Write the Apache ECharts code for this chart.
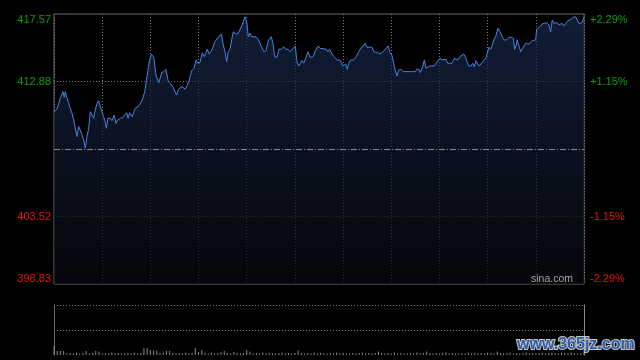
<!DOCTYPE html>
<html>
<head>
<meta charset="utf-8">
<script src="https://cdn.jsdelivr.net/npm/echarts@6/dist/echarts.min.js"></script>
<style>
html,body{margin:0;padding:0;background:#000;}
#chart{width:640px;height:360px;}
</style>
</head>
<body>
<div id="chart"></div>
<script>
// minutes since the open (HK session, 330 minutes)
const times = [0,1.9,2.9,3.9,5.0,5.6,6.4,7.0,8.1,9.2,10.1,11.2,12.3,13.3,14.3,15.4,16.4,17.4,18.5,19.5,
20.5,21.6,22.6,23.7,24.7,25.7,26.8,27.8,28.8,29.9,30.9,31.9,32.6,33.6,35.1,36.1,37.5,38.6,39.6,41.3,
42.8,44.0,45.3,46.1,47.1,48.6,49.6,50.6,52.3,53.4,54.8,56.5,57.9,59.3,60.6,62.1,63.5,65.2,66.0,67.1,
68.5,69.7,70.5,71.2,72.7,74.3,75.3,76.4,77.4,78.9,80.5,81.6,83.0,84.2,85.7,87.2,88.4,89.5,90.9,92.3,
93.6,94.6,95.4,96.7,97.6,98.8,100.2,101.7,102.9,104.2,105.4,106.5,107.5,108.5,109.6,110.6,111.6,113.3,114.7,115.8,
116.9,117.9,118.9,120.0,121.0,122.0,123.1,124.1,125.8,127.2,128.3,129.3,130.7,132.0,133.4,134.4,135.3,136.4,137.4,138.8,
140.1,141.5,143.0,144.3,145.7,147.1,148.8,150.2,151.3,152.3,153.3,154.4,155.5,156.5,158.1,159.6,161.3,162.7,164.4,165.8,
167.5,169.5,170.6,171.7,173.1,174.3,175.4,176.4,177.9,178.9,179.9,181.0,181.6,182.6,183.5,184.7,186.6,188.2,189.7,191.3,
192.6,193.8,194.9,196.6,198.0,199.1,200.3,201.7,203.0,204.2,205.5,206.7,208.1,209.2,210.4,211.5,212.5,213.6,214.6,216.0,
217.5,219.2,221.2,223.3,224.9,225.8,227.1,228.1,229.6,230.6,231.6,232.7,233.7,235.3,236.8,237.8,238.9,240.3,241.6,242.6,
244.1,245.1,246.5,247.8,249.2,250.3,251.3,252.8,254.0,255.1,256.1,257.2,258.2,259.7,260.7,261.7,262.7,263.8,264.8,265.8,
266.9,268.5,269.8,270.8,271.9,272.9,273.9,275.0,275.6,276.4,277.7,279.1,280.2,280.8,281.8,283.3,284.7,286.0,286.8,287.8,
288.4,289.5,290.6,291.6,292.6,293.7,294.7,295.7,296.8,297.8,298.8,299.9,300.5,302.0,303.0,304.0,305.1,306.7,308.2,309.2,
310.2,311.3,312.3,313.3,314.4,315.4,316.4,317.5,318.5,319.9,321.2,322.3,323.3,324.8,325.8,326.9,327.9,328.9,330];

const prices = [410.79,410.98,411.00,411.72,411.79,412.18,411.79,412.18,411.72,411.37,411.03,410.68,410.21,410.09,409.05,409.75,409.52,409.17,408.82,408.25,
409.05,409.64,410.79,410.56,410.33,410.91,411.37,411.55,411.14,411.09,410.44,410.09,409.64,410.33,410.33,410.16,410.56,409.98,410.21,410.33,
410.40,410.33,410.72,410.33,410.72,410.44,410.33,411.03,411.14,411.32,411.55,412.18,413.22,414.26,414.79,414.56,413.34,412.80,412.76,413.50,
413.57,413.73,413.68,412.87,412.71,412.48,412.18,411.95,412.30,412.52,412.48,412.34,412.64,412.99,413.63,413.80,414.38,414.15,414.19,414.88,
414.61,414.72,415.12,414.79,414.95,415.19,415.65,415.88,415.99,416.18,415.42,414.95,414.26,414.95,415.12,415.77,416.34,416.18,416.23,416.18,
416.74,416.81,417.38,417.04,415.99,416.23,415.99,415.88,415.99,415.81,415.77,415.26,414.95,415.02,415.72,415.81,415.99,415.49,414.61,414.56,
415.12,415.12,415.30,415.12,415.12,414.95,415.19,415.35,414.26,413.96,414.03,414.33,414.15,414.43,414.95,414.56,414.61,415.02,415.35,415.19,
415.16,415.12,414.95,415.12,414.79,414.61,414.72,414.38,414.38,414.19,413.96,413.91,414.10,413.73,414.15,414.38,414.38,414.61,414.95,415.26,
415.35,415.54,415.26,415.26,415.26,414.95,415.07,414.88,414.79,414.88,415.02,415.02,415.35,414.88,414.72,414.15,413.63,413.27,413.68,413.73,
413.57,413.57,413.57,413.57,413.57,413.73,413.73,413.50,413.91,414.38,413.80,413.73,413.96,413.96,413.96,414.15,414.26,414.50,414.38,414.38,
414.43,414.15,414.15,414.15,414.50,414.56,414.38,414.61,414.65,414.79,414.61,414.26,413.96,413.96,414.15,413.91,414.33,414.33,413.96,413.91,
414.26,414.43,414.84,415.26,415.12,415.42,415.77,415.99,416.04,416.58,416.34,415.99,415.77,415.88,415.77,415.95,415.95,415.88,415.12,415.42,
415.77,415.35,414.95,414.95,415.35,415.54,415.42,415.49,415.58,415.72,415.65,415.77,416.51,416.65,416.69,416.88,416.97,416.97,416.81,416.34,
417.15,416.92,416.81,416.97,416.81,416.74,416.92,416.74,416.92,417.10,417.15,417.15,417.34,417.38,417.34,416.92,416.92,416.97,417.38];

// volume, one bar per two minutes (relative units)
const volumes = [18,8,8,8,3,4,3,5,3,4,8,3,4,8,7,3,4,3,5,3,4,3,3,4,3,5,3,4,14,14,10,9,9,4,5,8,8,4,3,4,
3,5,3,4,14,6,10,4,3,5,3,4,6,8,4,3,6,4,3,4,10,7,3,4,3,5,3,4,3,3,4,5,3,4,3,4,9,4,3,4,
3,5,3,4,3,3,4,3,5,3,4,3,3,4,3,4,5,3,4,3,4,7,4,3,4,3,5,3,4,3,3,4,3,5,3,4,7,4,3,4,
3,4,5,3,4,3,3,4,3,5,3,4,3,4,3,5,4,3,7,4,3,4,5,3,4,3,4,5,3,4,3,4,5,3,4,5,4,3,5,4,3,5,4,3,4,5];
const volCategories = volumes.map((v, i) => String(i * 2));

const prevClose = 408.20;
const priceMin = 398.83, priceMax = 417.57, priceStep = 4.685;
const leftLabels = ['398.83', '403.52', '', '412.88', '417.57'];
const rightLabels = ['-2.29%', '-1.15%', '', '+1.15%', '+2.29%'];

const UP = '#0aa00a', DOWN = '#e8120c';
const FONT = 'Liberation Sans, Arial, sans-serif';
const dotted = { color: '#7a7a7a', type: [1, 2], width: 1 };

const chart = echarts.init(document.getElementById('chart'), null, { renderer: 'canvas' });
chart.setOption({
  backgroundColor: '#000',
  animation: false,
  grid: [
    { left: 54, right: 56, top: 14, bottom: 76, show: true, borderColor: '#6a6a6a', borderWidth: 1, backgroundColor: 'transparent' },
    { left: 54, right: 56, top: 305, bottom: 5 }
  ],
  xAxis: [
    { type: 'value', gridIndex: 0, min: 0, max: 330, interval: 30,
      axisLine: { show: false }, axisTick: { show: false }, axisLabel: { show: false },
      splitLine: { show: true, lineStyle: dotted } },
    { type: 'category', gridIndex: 1, data: volCategories, boundaryGap: false,
      axisLine: { show: false }, axisTick: { show: false }, axisLabel: { show: false }, splitLine: { show: false } }
  ],
  yAxis: [
    { type: 'value', gridIndex: 0, min: priceMin, max: priceMax, interval: priceStep, position: 'left',
      axisLine: { show: false }, axisTick: { show: false },
      axisLabel: { margin: 3, fontSize: 11, fontFamily: FONT,
        verticalAlignMinLabel: 'bottom', verticalAlignMaxLabel: 'top',
        formatter: (v, i) => leftLabels[i] || '',
        color: (v, i) => (i < 2 ? DOWN : UP) },
      splitLine: { show: true, lineStyle: { color: ['rgba(0,0,0,0)', '#7a7a7a', 'rgba(0,0,0,0)', '#7a7a7a', 'rgba(0,0,0,0)'], type: [1, 2], width: 1 } } },
    { type: 'value', gridIndex: 0, min: priceMin, max: priceMax, interval: priceStep, position: 'right',
      axisLine: { show: false }, axisTick: { show: false },
      axisLabel: { margin: 6, fontSize: 11, fontFamily: FONT,
        verticalAlignMinLabel: 'bottom', verticalAlignMaxLabel: 'top',
        formatter: (v, i) => rightLabels[i] || '',
        color: (v, i) => (i < 2 ? DOWN : UP) },
      splitLine: { show: false } },
    { type: 'value', gridIndex: 1, min: 0, max: 100, interval: 50, position: 'left',
      axisLine: { show: true, lineStyle: { color: '#6a6a6a', width: 1 } }, axisTick: { show: false }, axisLabel: { show: false },
      splitLine: { show: true, lineStyle: { color: ['rgba(0,0,0,0)', '#7a7a7a', '#7a7a7a'], type: [1, 2], width: 1 } } },
    { type: 'value', gridIndex: 1, min: 0, max: 100, interval: 50, position: 'right',
      axisLine: { show: true, lineStyle: { color: '#8a8a8a', width: 1 } }, axisTick: { show: false }, axisLabel: { show: false },
      splitLine: { show: false } }
  ],
  series: [
    { type: 'line', xAxisIndex: 0, yAxisIndex: 0,
      data: times.map((t, i) => [t, prices[i]]),
      showSymbol: false, symbol: 'none', smooth: false,
      lineStyle: { color: '#4a82de', width: 1 },
      areaStyle: { origin: 'start', color: new echarts.graphic.LinearGradient(0, 0, 0, 1, [
        { offset: 0, color: 'rgba(24,42,76,1)' },
        { offset: 1, color: 'rgba(6,8,14,1)' }
      ]) },
      markLine: { silent: true, symbol: 'none', label: { show: false },
        lineStyle: { color: '#8a8a8a', type: [6, 2, 1, 2], width: 1 },
        data: [{ yAxis: prevClose }] },
      z: 3 },
    { type: 'bar', xAxisIndex: 1, yAxisIndex: 2, data: volumes, barWidth: 1,
      itemStyle: { color: '#8c8c8c' } }
  ],
  graphic: [
    { type: 'text', right: 67, top: 274, silent: true, z: 10,
      style: { text: 'sina.com', fill: '#a8a8a8', font: '10.5px ' + FONT } },
    { type: 'text', left: 516, top: 336, silent: true, z: 10,
      style: { text: 'www.365jz.com', fill: '#2c5ca8', stroke: '#c8c8c8', lineWidth: 2,
        font: 'bold 16px ' + FONT } }
  ]
});
</script>
</body>
</html>
